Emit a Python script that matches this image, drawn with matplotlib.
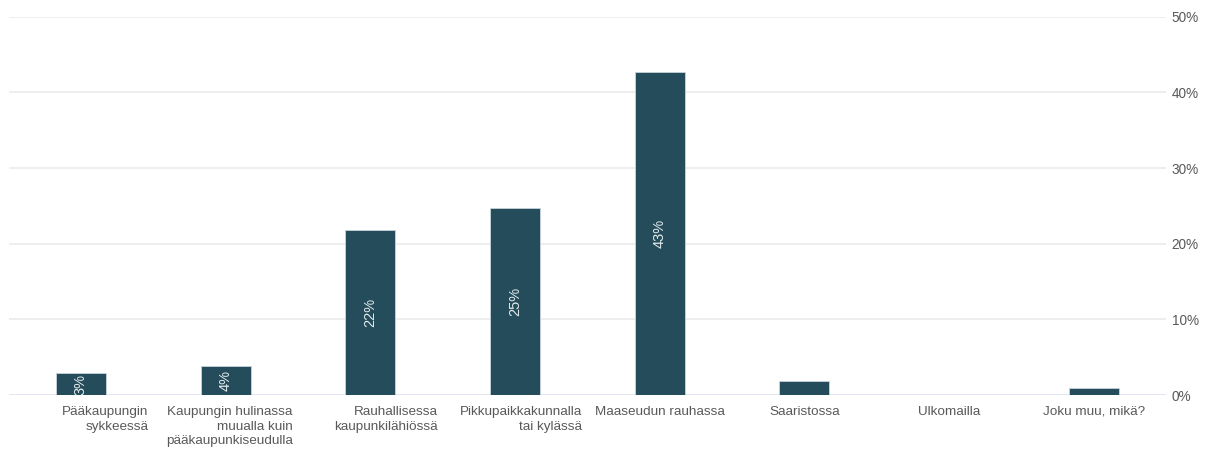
import matplotlib.pyplot as plt
import numpy as np

# --- Data: share of answers (%) per preferred place of living ---
categories = [
    "Pääkaupungin\nsykkeessä",
    "Kaupungin hulinassa\nmuualla kuin\npääkaupunkiseudulla",
    "Rauhallisessa\nkaupunkilähiössä",
    "Pikkupaikkakunnalla\ntai kylässä",
    "Maaseudun rauhassa",
    "Saaristossa",
    "Ulkomailla",
    "Joku muu, mikä?",
]
shares = [2.9, 3.8, 21.8, 24.7, 42.7, 1.8, 0.0, 0.9]
y_ticks = [0, 10, 20, 30, 40, 50]

BAR_COLOR = "#244c5a"
GRID_COLOR = "#ebebeb"
BASE_COLOR = "#d8dfee"
TEXT_COLOR = "#595959"


def main():
    plt.rcParams["font.family"] = ["Liberation Sans", "DejaVu Sans"]
    fig = plt.figure(figsize=(12.11, 4.5), dpi=100)
    ax = fig.add_axes([0.0071, 0.1222, 0.9557, 0.8407])

    x = np.arange(len(categories))
    ax.bar(x, shares, width=0.345, color=BAR_COLOR, edgecolor="#c9d6da",
           linewidth=0.6, zorder=3)

    # value labels inside the bars, rotated
    for xi, v in zip(x, shares):
        if v >= 2.5:
            ax.text(xi, v / 2, f"{v:.0f}%", rotation=90, ha="center",
                    va="center", color="#e4eaed", fontsize=10.5, zorder=4)

    ax.set_xlim(-0.5, len(categories) - 0.5)
    ax.set_ylim(0, 50)
    ax.set_yticks(y_ticks)
    ax.set_yticklabels([f"{t}%" for t in y_ticks])
    ax.yaxis.tick_right()
    ax.tick_params(axis="y", length=0, pad=4, labelsize=9.8,
                   labelcolor=TEXT_COLOR)
    for t in y_ticks[1:]:
        ax.axhline(t, color=GRID_COLOR, lw=1.2, zorder=1)
    ax.axhline(0, color=BASE_COLOR, lw=1.8, zorder=2)

    # category labels: multi-line ones right-aligned, single lines centred
    ax.set_xticks([])
    for xi, lab in zip(x, categories):
        if "\n" in lab:
            ax.text(xi + 0.465, -1.45, lab, ha="right", va="top",
                    multialignment="right", fontsize=9.7, color=TEXT_COLOR,
                    linespacing=1.28)
        else:
            ax.text(xi, -1.45, lab, ha="center", va="top", fontsize=9.7,
                    color=TEXT_COLOR)

    for s in ax.spines.values():
        s.set_visible(False)

    fig.savefig("out.png", dpi=100, facecolor="white")


if __name__ == "__main__":
    main()
